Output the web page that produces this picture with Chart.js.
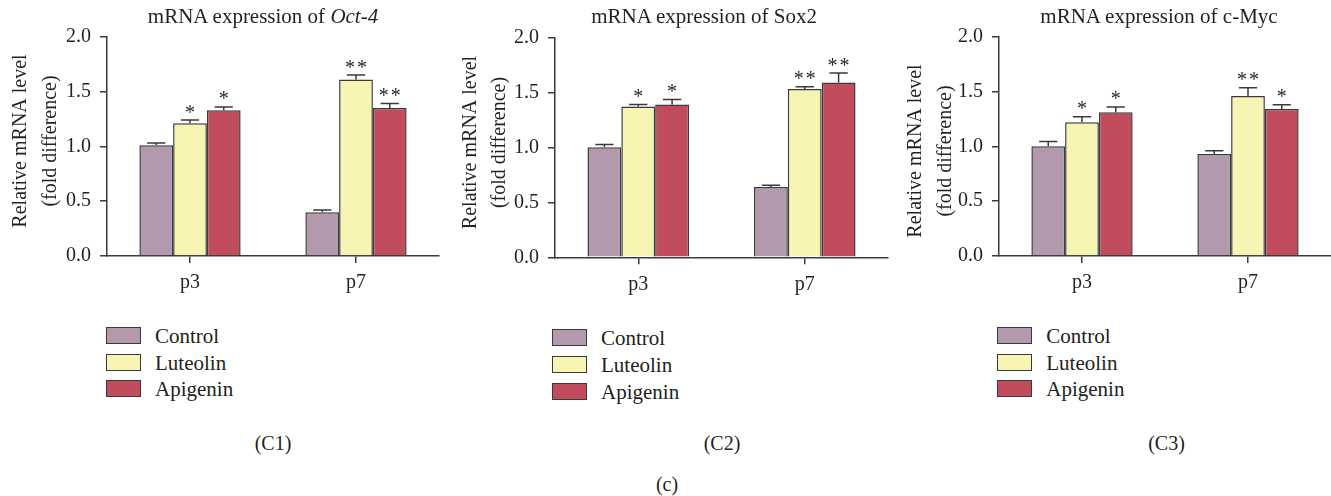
<!DOCTYPE html>
<html>
<head>
<meta charset="utf-8">
<script src="https://cdn.jsdelivr.net/npm/chart.js@4"></script>
<style>
  html, body { margin:0; padding:0; background:#fff; }
  #wrap { position:relative; width:1331px; height:496px; background:#fff; overflow:hidden;
          font-family:"Liberation Serif", "DejaVu Serif", serif; color:#231f20; }
  canvas { position:absolute; top:0; }
  .ttl { position:absolute; width:400px; text-align:center; font-size:21px; line-height:24px; white-space:nowrap; }
  .cap { position:absolute; width:100px; text-align:center; font-size:20px; line-height:24px; }
  .leg { position:absolute; font-size:21px; }
  .leg .row { position:absolute; left:0; height:18px; white-space:nowrap; }
  .leg .box { position:absolute; left:0; top:0; width:33px; height:15px; border:1.5px solid #3a3a3a; }
  .leg .lab { position:absolute; left:49px; top:-3px; line-height:24px; }
</style>
</head>
<body>
<div id="wrap">
  <canvas id="c1" width="445" height="300" style="left:0px"></canvas>
  <canvas id="c2" width="446" height="300" style="left:448px"></canvas>
  <canvas id="c3" width="439" height="300" style="left:892.3px"></canvas>
</div>
<script>
// ---------------- data ----------------
const categories = ['p3', 'p7'];
const seriesNames = ['Control', 'Luteolin', 'Apigenin'];
const yTickValues = [0, 0.5, 1.0, 1.5, 2.0];

// Oct-4
const oct4Control  = [1.01, 0.40];
const oct4Luteolin = [1.21, 1.61];
const oct4Apigenin = [1.33, 1.35];
const oct4ControlErr  = [0.02, 0.02];
const oct4LuteolinErr = [0.03, 0.04];
const oct4ApigeninErr = [0.03, 0.04];
const oct4ControlSig  = ['', ''];
const oct4LuteolinSig = ['*', '**'];
const oct4ApigeninSig = ['*', '**'];

// Sox2
const sox2Control  = [1.00, 0.64];
const sox2Luteolin = [1.37, 1.53];
const sox2Apigenin = [1.39, 1.59];
const sox2ControlErr  = [0.025, 0.015];
const sox2LuteolinErr = [0.02, 0.02];
const sox2ApigeninErr = [0.045, 0.085];
const sox2ControlSig  = ['', ''];
const sox2LuteolinSig = ['*', '**'];
const sox2ApigeninSig = ['*', '**'];

// c-Myc
const cmycControl  = [1.00, 0.93];
const cmycLuteolin = [1.22, 1.46];
const cmycApigenin = [1.31, 1.34];
const cmycControlErr  = [0.045, 0.03];
const cmycLuteolinErr = [0.05, 0.075];
const cmycApigeninErr = [0.05, 0.04];
const cmycControlSig  = ['', ''];
const cmycLuteolinSig = ['*', '**'];
const cmycApigeninSig = ['*', '*'];

const panelTitles = ['mRNA expression of <i>Oct-4</i>', 'mRNA expression of Sox2', 'mRNA expression of c-Myc'];
const panelCaptions = ['(C1)', '(C2)', '(C3)'];
const figureCaption = '(c)';
const yTitleLines = ['Relative mRNA level', '(fold difference)'];

// ---------------- styles / layout ----------------
const seriesColors = ['#b299ad', '#f7f4b4', '#c04c5e'];
const edgeColor = '#3a3a3a';
const textColor = '#231f20';
const FONT = "'Liberation Serif', serif";

const layouts = [
  { id:'c1', padTop:36.7, padRight:6, xHeight:44,   titleCx:263,  capCx:273,    legX:106,   legY:[327, 353.5, 380],     yTitleX:21,   yTitleCy:141 },
  { id:'c2', padTop:37.3, padRight:6, xHeight:42.7, titleCx:704,  capCx:722,    legX:552,   legY:[329.3, 356, 382.7],   yTitleX:22.5, yTitleCy:142.5 },
  { id:'c3', padTop:36.7, padRight:0, xHeight:44,   titleCx:1159, capCx:1166.5, legX:997.3, legY:[327.3, 354, 380.3],   yTitleX:24.2, yTitleCy:151 },
];

const panels = [
  { values:[oct4Control, oct4Luteolin, oct4Apigenin], errors:[oct4ControlErr, oct4LuteolinErr, oct4ApigeninErr], sig:[oct4ControlSig, oct4LuteolinSig, oct4ApigeninSig] },
  { values:[sox2Control, sox2Luteolin, sox2Apigenin], errors:[sox2ControlErr, sox2LuteolinErr, sox2ApigeninErr], sig:[sox2ControlSig, sox2LuteolinSig, sox2ApigeninSig] },
  { values:[cmycControl, cmycLuteolin, cmycApigenin], errors:[cmycControlErr, cmycLuteolinErr, cmycApigeninErr], sig:[cmycControlSig, cmycLuteolinSig, cmycApigeninSig] },
];

Chart.defaults.font.family = FONT;

// error bars + significance stars drawn through the y scale
const errorBarPlugin = {
  id: 'errorBars',
  afterDatasetsDraw(chart) {
    const ctx = chart.ctx;
    const ys = chart.scales.y;
    chart.data.datasets.forEach((ds, di) => {
      const meta = chart.getDatasetMeta(di);
      meta.data.forEach((bar, i) => {
        const v = ds.data[i], e = ds.errors[i];
        const yTop = ys.getPixelForValue(v);
        const yErr = ys.getPixelForValue(v + e);
        const half = bar.width * 0.27;
        ctx.save();
        ctx.strokeStyle = edgeColor;
        ctx.lineWidth = 1.5;
        ctx.beginPath();
        ctx.moveTo(bar.x, yTop);
        ctx.lineTo(bar.x, yErr);
        ctx.moveTo(bar.x - half, yErr);
        ctx.lineTo(bar.x + half, yErr);
        ctx.stroke();
        const s = ds.sig[i];
        if (s) {
          ctx.font = '20px ' + FONT;
          ctx.fillStyle = textColor;
          ctx.textAlign = 'center';
          ctx.textBaseline = 'alphabetic';
          const n = s.length;
          for (let k = 0; k < n; k++) {
            ctx.fillText('*', bar.x + (k - (n - 1) / 2) * 12, yErr - 1.5);
          }
        }
        ctx.restore();
      });
    });
  }
};

// rotated two-line y axis title
const yTitlePlugin = {
  id: 'yTitle',
  afterDraw(chart, args, opts) {
    const ctx = chart.ctx;
    ctx.save();
    ctx.font = '20px ' + FONT;
    ctx.fillStyle = textColor;
    ctx.textAlign = 'center';
    ctx.textBaseline = 'middle';
    opts.lines.forEach((line, li) => {
      ctx.save();
      ctx.translate(opts.x + li * 29.5, opts.cy);
      ctx.rotate(-Math.PI / 2);
      ctx.fillText(line, 0, 0);
      ctx.restore();
    });
    ctx.restore();
  }
};

const wrap = document.getElementById('wrap');
const charts = [];

panels.forEach((p, pi) => {
  const L = layouts[pi];
  const datasets = seriesNames.map((name, si) => ({
    label: name,
    data: p.values[si],
    errors: p.errors[si],
    sig: p.sig[si],
    backgroundColor: seriesColors[si],
    borderColor: edgeColor,
    borderWidth: 1.5,
    borderSkipped: 'bottom',
    categoryPercentage: 0.61,
    barPercentage: 1.0,
  }));

  charts.push(new Chart(document.getElementById(L.id), {
    type: 'bar',
    data: { labels: categories, datasets },
    options: {
      responsive: false,
      animation: false,
      devicePixelRatio: 1,
      layout: { padding: { top: L.padTop, right: L.padRight, bottom: 0, left: 0 } },
      plugins: {
        legend: { display: false }, tooltip: { enabled: false }, title: { display: false },
        yTitle: { lines: yTitleLines, x: L.yTitleX, cy: L.yTitleCy }
      },
      scales: {
        x: {
          type: 'category',
          offset: true,
          afterFit: (s) => { s.height = L.xHeight; },
          grid: { display: true, offset: false, drawOnChartArea: false, drawTicks: true, tickLength: 7, color: edgeColor, lineWidth: 1.5 },
          border: { display: true, color: edgeColor, width: 1.5 },
          ticks: { color: textColor, font: { family: FONT, size: 20 }, padding: 8 },
        },
        y: {
          min: yTickValues[0],
          max: yTickValues[yTickValues.length - 1],
          afterFit: (s) => { s.width = 107; },
          afterBuildTicks: (s) => { s.ticks = yTickValues.map(v => ({ value: v })); },
          grid: { display: true, drawOnChartArea: false, drawTicks: true, tickLength: 7, color: edgeColor, lineWidth: 1.5 },
          border: { display: true, color: edgeColor, width: 1.5 },
          ticks: { color: textColor, font: { family: FONT, size: 20 }, padding: 9, callback: (v) => Number(v).toFixed(1) },
          title: { display: false },
        }
      }
    },
    plugins: [errorBarPlugin, yTitlePlugin]
  }));

  // title
  const t = document.createElement('div');
  t.className = 'ttl';
  t.style.left = (L.titleCx - 200) + 'px';
  t.style.top = '4px';
  t.innerHTML = panelTitles[pi];
  wrap.appendChild(t);

  // legend
  const lg = document.createElement('div');
  lg.className = 'leg';
  lg.style.left = L.legX + 'px';
  lg.style.top = '0px';
  seriesNames.forEach((name, si) => {
    const row = document.createElement('div');
    row.className = 'row';
    row.style.top = L.legY[si] + 'px';
    const b = document.createElement('div');
    b.className = 'box';
    b.style.background = seriesColors[si];
    const lab = document.createElement('div');
    lab.className = 'lab';
    lab.textContent = name;
    row.appendChild(b); row.appendChild(lab);
    lg.appendChild(row);
  });
  wrap.appendChild(lg);

  // caption
  const c = document.createElement('div');
  c.className = 'cap';
  c.style.left = (L.capCx - 50) + 'px';
  c.style.top = '431px';
  c.textContent = panelCaptions[pi];
  wrap.appendChild(c);
});

const fc = document.createElement('div');
fc.className = 'cap';
fc.style.left = (667 - 50) + 'px';
fc.style.top = '472px';
fc.textContent = figureCaption;
wrap.appendChild(fc);

document.fonts.load("20px 'Liberation Serif'").then(() => {
  charts.forEach(ch => ch.update('none'));
});
</script>
</body>
</html>
